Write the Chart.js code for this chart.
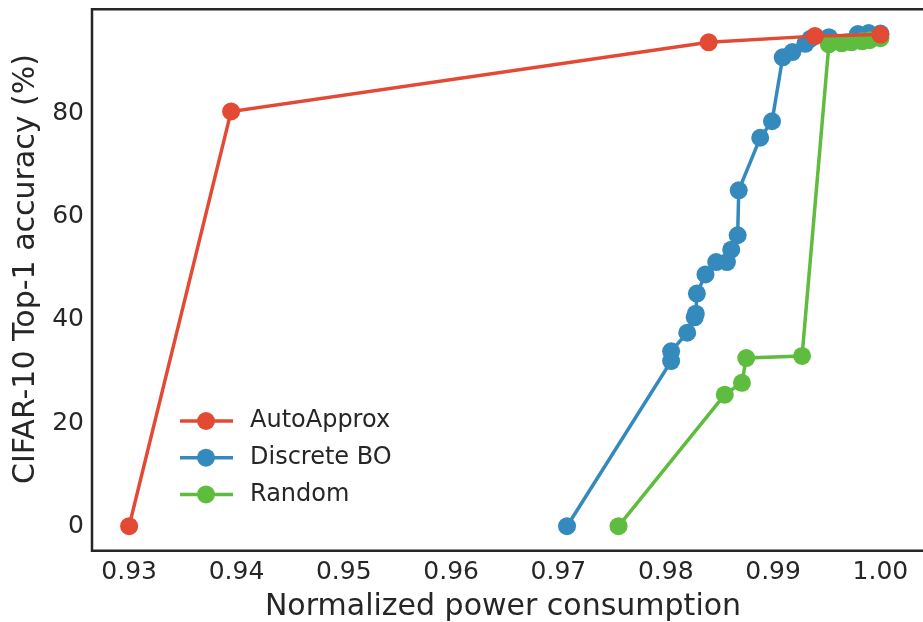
<!DOCTYPE html>
<html>
<head>
<meta charset="utf-8">
<script src="https://cdn.jsdelivr.net/npm/chart.js@4.4.1/dist/chart.umd.min.js"></script>
<style>
  html, body { margin: 0; padding: 0; background: #fff; }
  canvas { display: block; }
</style>
</head>
<body>
<canvas id="chart" width="923" height="622"></canvas>
<script>
//-------------------------------------------------------------
// Data
//-------------------------------------------------------------
const seriesNames = ["AutoApprox", "Discrete BO", "Random"];

const autoPower = [0.930, 0.9395, 0.9840, 0.9939, 1.000];
const autoAcc   = [0.0, 80.4, 93.8, 95.0, 95.3];

const boPower = [0.9708, 0.9805, 0.9805, 0.9820, 0.9827, 0.9828, 0.9829, 0.9837,
                 0.9847, 0.9857, 0.9861, 0.9867, 0.9868, 0.9888, 0.9899, 0.9909,
                 0.9918, 0.9930, 0.9935, 0.9952, 0.9979, 0.9989, 1.000];
const boAcc   = [0.0, 32.0, 33.9, 37.5, 40.5, 41.2, 45.1, 48.8,
                 51.2, 51.2, 53.6, 56.4, 65.1, 75.3, 78.5, 90.9,
                 91.9, 93.5, 94.5, 94.8, 95.4, 95.6, 95.5];

const randPower = [0.9756, 0.9855, 0.9871, 0.9875, 0.9927, 0.9952, 0.9964,
                   0.9973, 0.9983, 0.9990, 1.000];
const randAcc   = [0.0, 25.5, 27.8, 32.6, 33.0, 93.4, 93.6, 93.8, 94.0, 94.2, 94.6];

const xTicks = [0.93, 0.94, 0.95, 0.96, 0.97, 0.98, 0.99, 1.00];
const yTicks = [0, 20, 40, 60, 80];

const xTitle = "Normalized power consumption";
const yTitle = "CIFAR-10 Top-1 accuracy (%)";

//-------------------------------------------------------------
// Style
//-------------------------------------------------------------
const colors = ["#E24A33", "#348ABD", "#5EBD3E"];
const textColor = "#262626";

Chart.defaults.font.family = "'DejaVu Sans', sans-serif";
Chart.defaults.color = textColor;

function toPoints(xs, ys) {
  return xs.map((x, i) => ({ x, y: ys[i] }));
}

function makeDataset(i, xs, ys, order) {
  return {
    label: seriesNames[i],
    data: toPoints(xs, ys),
    borderColor: colors[i],
    backgroundColor: colors[i],
    pointBackgroundColor: colors[i],
    pointBorderWidth: 0,
    pointRadius: 9,
    borderWidth: 3.5,
    tension: 0,
    order,
    clip: false,
  };
}

//-------------------------------------------------------------
// Plugins: axes frame, y title, legend inside the plot
//-------------------------------------------------------------
const framePlugin = {
  id: "frame",
  afterDatasetsDraw(chart) {
    const { ctx, chartArea: a } = chart;
    ctx.save();
    ctx.strokeStyle = textColor;
    ctx.lineWidth = 2.5;
    ctx.beginPath();
    ctx.moveTo(a.right + 10, a.top);
    ctx.lineTo(a.left, a.top);
    ctx.lineTo(a.left, a.bottom);
    ctx.lineTo(a.right + 10, a.bottom);
    ctx.stroke();
    ctx.restore();
  },
};

const yTitlePlugin = {
  id: "yTitle",
  afterDraw(chart) {
    const ctx = chart.ctx;
    ctx.save();
    ctx.translate(26, 269);
    ctx.rotate(-Math.PI / 2);
    ctx.fillStyle = textColor;
    ctx.font = "30px 'DejaVu Sans'";
    ctx.textAlign = "center";
    ctx.textBaseline = "middle";
    ctx.fillText(yTitle, 0, 0);
    ctx.restore();
  },
};

const legendPlugin = {
  id: "insideLegend",
  afterDraw(chart) {
    const ctx = chart.ctx;
    ctx.save();
    chart.data.datasets.forEach((ds, i) => {
      const y = 421 + i * 36.7;
      ctx.strokeStyle = ds.borderColor;
      ctx.lineWidth = 3.5;
      ctx.beginPath();
      ctx.moveTo(180, y);
      ctx.lineTo(233, y);
      ctx.stroke();
      ctx.fillStyle = ds.borderColor;
      ctx.beginPath();
      ctx.arc(206, y, 9, 0, Math.PI * 2);
      ctx.fill();
      ctx.fillStyle = textColor;
      ctx.font = "24px 'DejaVu Sans'";
      ctx.textBaseline = "middle";
      ctx.textAlign = "left";
      ctx.fillText(ds.label, 250, y);
    });
    ctx.restore();
  },
};

//-------------------------------------------------------------
// Chart
//-------------------------------------------------------------
new Chart(document.getElementById("chart"), {
  type: "line",
  data: {
    datasets: [
      makeDataset(0, autoPower, autoAcc, 0),
      makeDataset(1, boPower, boAcc, 2),
      makeDataset(2, randPower, randAcc, 1),
    ],
  },
  options: {
    responsive: false,
    animation: false,
    events: [],
    layout: { padding: { top: 9.3, left: 0, right: 0, bottom: 0 } },
    plugins: {
      legend: { display: false },
      tooltip: { enabled: false },
    },
    scales: {
      x: {
        type: "linear",
        min: 0.92654,
        max: 1.00313,
        grid: { display: false, drawTicks: false },
        border: { display: false },
        afterBuildTicks: (scale) => {
          scale.ticks = xTicks.map((v) => ({ value: v }));
        },
        afterFit: (scale) => {
          scale.height = 71.3;
          scale.paddingLeft = 0;
          scale.paddingRight = 0;
        },
        ticks: {
          autoSkip: false,
          maxRotation: 0,
          padding: 7,
          font: { size: 25 },
          color: textColor,
          callback: (v) => Number(v).toFixed(2),
        },
        title: {
          display: true,
          text: xTitle,
          font: { size: 30, lineHeight: 1 },
          color: textColor,
          padding: { top: 0, bottom: 0 },
        },
      },
      y: {
        type: "linear",
        min: -4.75,
        max: 100.2,
        grid: { display: false, drawTicks: false },
        border: { display: false },
        afterBuildTicks: (scale) => {
          scale.ticks = yTicks.map((v) => ({ value: v }));
        },
        afterFit: (scale) => {
          scale.width = 92;
          scale.paddingTop = 0;
          scale.paddingBottom = 0;
        },
        ticks: {
          padding: 8,
          font: { size: 25 },
          color: textColor,
          callback: (v) => String(v),
        },
        title: { display: false },
      },
    },
  },
  plugins: [framePlugin, yTitlePlugin, legendPlugin],
});
</script>
</body>
</html>
